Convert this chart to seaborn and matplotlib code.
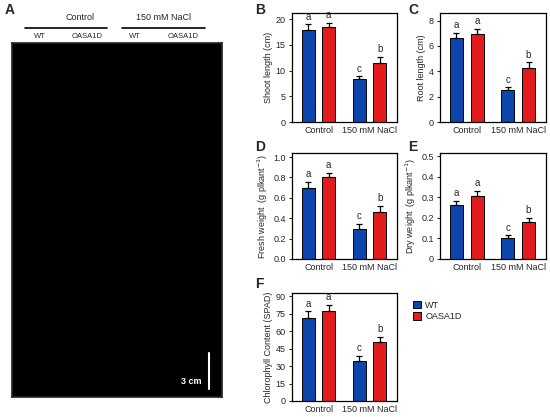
import matplotlib
matplotlib.use("Agg")
import matplotlib.pyplot as plt
from matplotlib.lines import Line2D
import seaborn as sns
import pandas as pd

W, H = 550, 417

treatments = ["Control", "150 mM NaCl"]
genotypes = ["WT", "OASA1D"]
colors = {"WT": "#0c46ad", "OASA1D": "#e41b1c"}

# values in order: WT-Control, OASA1D-Control, WT-NaCl, OASA1D-NaCl
shoot_mean = [17.9, 18.4, 8.35, 11.5]
shoot_err = [1.1, 0.95, 0.55, 1.1]
shoot_sig = ["a", "a", "c", "b"]

root_mean = [6.6, 6.93, 2.5, 4.28]
root_err = [0.45, 0.4, 0.24, 0.43]
root_sig = ["a", "a", "c", "b"]

fresh_mean = [0.70, 0.80, 0.295, 0.465]
fresh_err = [0.06, 0.045, 0.05, 0.055]
fresh_sig = ["a", "a", "c", "b"]

dry_mean = [0.26, 0.307, 0.102, 0.18]
dry_err = [0.022, 0.024, 0.013, 0.02]
dry_sig = ["a", "a", "c", "b"]

chl_mean = [71.4, 77.1, 34.3, 50.4]
chl_err = [5.7, 5.6, 4.3, 4.6]
chl_sig = ["a", "a", "c", "b"]


def rect(l, t, r, b):
    return [l / W, 1 - b / H, (r - l) / W, (b - t) / H]


def make_df(means, errs):
    rows = []
    i = 0
    for tr in treatments:
        for g in genotypes:
            rows.append({"treatment": tr, "genotype": g, "value": means[i], "err": errs[i]})
            i += 1
    return pd.DataFrame(rows)


sns.set_theme(style="ticks")
plt.rcParams["font.family"] = ["Liberation Sans", "DejaVu Sans"]
plt.rcParams["font.size"] = 6.5

fig = plt.figure(figsize=(W / 100, H / 100), dpi=100)


def panel(box, means, errs, sig, ylabel, ylim, yticks, yticklabels):
    ax = fig.add_axes(rect(*box))
    df = make_df(means, errs)
    sns.barplot(data=df, x="treatment", y="value", hue="genotype", palette=colors,
                hue_order=genotypes, order=treatments, errorbar=None, width=0.8,
                gap=0.37, saturation=1, edgecolor="black", linewidth=0.7, ax=ax,
                legend=True)
    handles, labels = ax.get_legend_handles_labels()
    ax.get_legend().remove()
    # bars come grouped by hue: WT bars first then OASA1D bars
    bars = ax.patches[:4]
    order_idx = [0, 2, 1, 3]  # map bar index -> df row index
    span = ylim[1] - ylim[0]
    for bi, bar in enumerate(bars):
        ri = order_idx[bi]
        x = bar.get_x() + bar.get_width() / 2
        m = df.loc[ri, "value"]
        e = df.loc[ri, "err"]
        ax.errorbar(x, m, yerr=[[0], [e]], fmt="none", ecolor="black",
                    elinewidth=0.9, capsize=2.5, capthick=0.9)
        ax.text(x, m + e + span * 0.025, sig[ri], ha="center", va="bottom",
                fontsize=7)
    ax.set_xlim(-0.52, 1.54)
    ax.set_ylim(*ylim)
    ax.set_yticks(yticks)
    ax.set_yticklabels(yticklabels)
    ax.set_xlabel("")
    ax.set_ylabel(ylabel, fontsize=6.5, labelpad=2)
    ax.tick_params(axis="x", length=0, pad=3, labelsize=6.5)
    ax.tick_params(axis="y", length=2.5, width=0.8, pad=2, labelsize=6.5)
    for s in ax.spines.values():
        s.set_linewidth(0.9)
        s.set_color("black")
    return ax, handles, labels


panel((292, 13, 397, 122), shoot_mean, shoot_err, shoot_sig, "Shoot length (cm)",
      (0, 21.2), [0, 5, 10, 15, 20], ["0", "5", "10", "15", "20"])
panel((440, 13, 546, 122), root_mean, root_err, root_sig, "Root length (cm)",
      (0, 8.6), [0, 2, 4, 6, 8], ["0", "2", "4", "6", "8"])
panel((292, 153, 397, 259), fresh_mean, fresh_err, fresh_sig,
      r"Fresh weight  (g plkant$^{-1}$)", (0, 1.04),
      [0, 0.2, 0.4, 0.6, 0.8, 1.0], ["0.0", "0.2", "0.4", "0.6", "0.8", "1.0"])
panel((440, 153, 546, 259), dry_mean, dry_err, dry_sig,
      r"Dry weight  (g plkant$^{-1}$)", (0, 0.515),
      [0, 0.1, 0.2, 0.3, 0.4, 0.5], ["0", "0.1", "0.2", "0.3", "0.4", "0.5"])
axF, handles, labels = panel((292, 293, 397, 401), chl_mean, chl_err, chl_sig,
                             "Chlorophyll Content (SPAD)", (0, 92.9),
                             [0, 15, 30, 45, 60, 75, 90],
                             ["0", "15", "30", "45", "60", "75", "90"])

for h in handles:
    h.set_edgecolor("black")
    h.set_linewidth(0.7)
fig.legend(handles, labels, loc="upper left", bbox_to_anchor=(409 / W, 1 - 297 / H),
           frameon=False, fontsize=6.5, handlelength=0.9, handleheight=0.9,
           handletextpad=0.5, labelspacing=0.25, borderaxespad=0)

# panel A: photograph area
axA = fig.add_axes(rect(12, 43, 222, 397))
axA.set_facecolor("black")
axA.set_xticks([])
axA.set_yticks([])
axA.set_xlim(0, 1)
axA.set_ylim(0, 1)
axA.plot([0.94, 0.94], [0.023, 0.125], color="white", lw=1.5)
axA.text(0.9, 0.045, "3 cm", color="white", ha="right", va="center",
         fontsize=6.5, fontweight="bold")

fig.text(80 / W, 1 - 17 / H, "Control", ha="center", va="center", fontsize=6.5)
fig.text(163 / W, 1 - 17 / H, "150 mM NaCl", ha="center", va="center", fontsize=6.5)
for x0, x1 in [(25, 107), (122, 205)]:
    fig.add_artist(Line2D([x0 / W, x1 / W], [1 - 28 / H, 1 - 28 / H],
                          color="black", lw=1.2))
for x, t in [(40, "WT"), (87, "OASA1D"), (135, "WT"), (183, "OASA1D")]:
    fig.text(x / W, 1 - 36 / H, t, ha="center", va="center", fontsize=5.5)

for x, y, t in [(5, 10, "A"), (255, 10, "B"), (408, 10, "C"),
                (255, 147, "D"), (408, 147, "E"), (255, 284, "F")]:
    fig.text(x / W, 1 - y / H, t, ha="left", va="center", fontsize=10,
             fontweight="bold")

fig.savefig("out.png", dpi=100)
